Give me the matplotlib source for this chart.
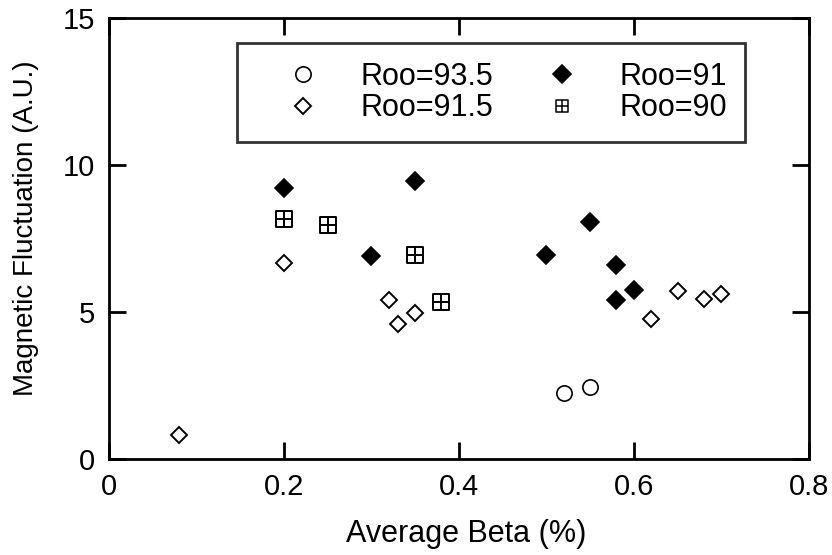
import matplotlib
matplotlib.use('Agg')
import matplotlib.pyplot as plt
from matplotlib.path import Path

plt.rcParams['font.family'] = ['Liberation Sans', 'DejaVu Sans']

# Roo=93.5
beta_935 = [0.52, 0.55]
fluct_935 = [2.25, 2.45]
# Roo=91
beta_91 = [0.20, 0.35, 0.30, 0.55, 0.50, 0.58, 0.60, 0.58]
fluct_91 = [9.2, 9.45, 6.9, 8.05, 6.95, 6.6, 5.75, 5.4]
# Roo=91.5
beta_915 = [0.08, 0.20, 0.32, 0.33, 0.35, 0.65, 0.62, 0.68, 0.70]
fluct_915 = [0.8, 6.65, 5.4, 4.6, 4.95, 5.7, 4.75, 5.45, 5.6]
# Roo=90
beta_90 = [0.20, 0.25, 0.35, 0.38]
fluct_90 = [8.15, 7.95, 6.95, 5.35]

# square with a cross inside
box_cross = Path(
    [(-1, -1), (1, -1), (1, 1), (-1, 1), (-1, -1),
     (0, -1), (0, 1), (-1, 0), (1, 0)],
    [Path.MOVETO, Path.LINETO, Path.LINETO, Path.LINETO, Path.CLOSEPOLY,
     Path.MOVETO, Path.LINETO, Path.MOVETO, Path.LINETO])

fig = plt.figure(figsize=(8.32, 5.55), dpi=100)
ax = fig.add_axes([0.131, 0.173, 0.841, 0.795])

kw = dict(linestyle='none', markeredgecolor='black')
ax.plot(beta_935, fluct_935, marker='o', ms=11, mew=1.2, markerfacecolor='none', label='Roo=93.5', **kw)
ax.plot(beta_915, fluct_915, marker='D', ms=8.5, mew=1.4, markerfacecolor='none', label='Roo=91.5', **kw)
ax.plot(beta_91, fluct_91, marker='D', ms=8.7, mew=1.2, markerfacecolor='black', label='Roo=91', **kw)
ax.plot(beta_90, fluct_90, marker=box_cross, ms=11.5, mew=1.4, markerfacecolor='none', label='Roo=90', **kw)

ax.set_xlim(0, 0.8)
ax.set_ylim(0, 15)
ax.set_xticks([0, 0.2, 0.4, 0.6, 0.8])
ax.set_xticklabels(['0', '0.2', '0.4', '0.6', '0.8'])
ax.set_yticks([0, 5, 10, 15])
ax.tick_params(direction='in', length=12, width=2, top=True, right=True,
               labelsize=21, pad=10)
for s in ax.spines.values():
    s.set_linewidth(2)

ax.set_xlabel('Average Beta (%)', fontsize=22)
ax.set_ylabel('Magnetic Fluctuation (A.U.)', fontsize=20)
ax.xaxis.set_label_coords(0.511, -0.135)
ax.yaxis.set_label_coords(-0.1, 0.524)

leg = ax.legend(ncol=2, loc='center', bbox_to_anchor=(0.183, 0.723, 0.726, 0.215),
                mode='expand', borderaxespad=0, fontsize=22, frameon=True,
                fancybox=False, edgecolor='black', handlelength=3.1,
                handletextpad=0.33, columnspacing=0.5, labelspacing=0.05,
                borderpad=0.6)
leg.get_frame().set_linewidth(2)
leg.legend_handles[3].set_markersize(9)
leg.legend_handles[3].set_markeredgewidth(1.1)

fig.savefig('out.png', dpi=100)
